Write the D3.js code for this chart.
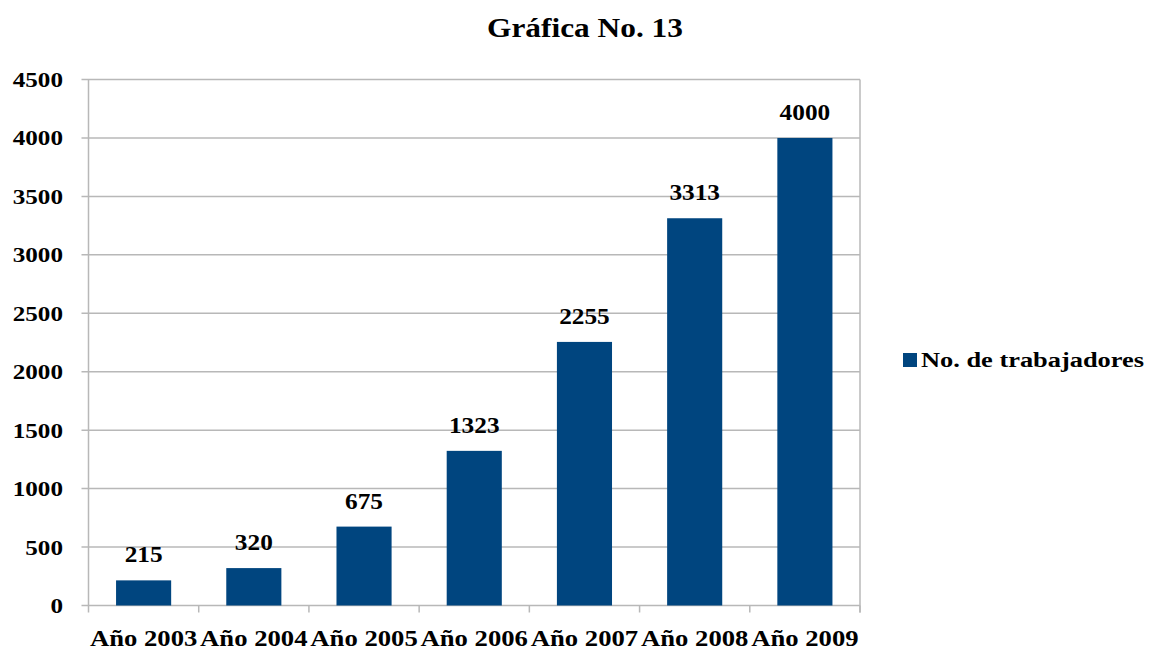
<!DOCTYPE html>
<html><head><meta charset="utf-8">
<script src="https://cdn.jsdelivr.net/npm/d3@7"></script>
<style>
body{margin:0;background:#fff;}
text{font-family:"Liberation Serif","Times New Roman",serif;font-weight:bold;fill:#000;}
</style></head>
<body>
<svg id="c" width="1152" height="652"></svg>
<script>
const categories = ["Año 2003","Año 2004","Año 2005","Año 2006","Año 2007","Año 2008","Año 2009"];
const values = [215, 320, 675, 1323, 2255, 3313, 4000];
const yTicks = [0,500,1000,1500,2000,2500,3000,3500,4000,4500];
const seriesName = "No. de trabajadores";
const title = "Gráfica No. 13";

const svg = d3.select("#c");
const L = 88.5, R = 860, T = 79.5, B = 605.5;
const x = d3.scaleBand().domain(categories).range([L, R]).paddingInner(0.5).paddingOuter(0.25);
const xb = d3.scaleBand().domain(categories).range([L, R]);
const y = d3.scaleLinear().domain([0, 4500]).range([B, T]);
const grid = "#b8b8b8";

function stretched(sel, fx, fy, sx) {
  return sel.attr("transform", (d, i) => `translate(${fx(d, i)},${fy(d, i)}) scale(${sx},1)`);
}

// gridlines
svg.append("g").selectAll("line").data(yTicks).join("line")
  .attr("x1", L - 7).attr("x2", R).attr("y1", d => y(d)).attr("y2", d => y(d))
  .attr("stroke", grid).attr("stroke-width", 1.5);
svg.append("line").attr("x1", R).attr("x2", R).attr("y1", T).attr("y2", B + 7).attr("stroke", grid).attr("stroke-width", 1.5);
svg.append("line").attr("x1", L).attr("x2", L).attr("y1", T).attr("y2", B + 7).attr("stroke", grid).attr("stroke-width", 1.5);
svg.append("g").selectAll("line").data(categories).join("line")
  .attr("x1", d => xb(d) + xb.bandwidth()).attr("x2", d => xb(d) + xb.bandwidth())
  .attr("y1", B).attr("y2", B + 7).attr("stroke", grid).attr("stroke-width", 1.5);

// y labels
stretched(svg.append("g").selectAll("text").data(yTicks).join("text"),
  () => 63, d => y(d) + 7.5, 1.17)
  .attr("text-anchor", "end").style("font-size", "21.5px").text(d => d);

// bars
svg.append("g").selectAll("rect").data(values).join("rect")
  .attr("x", (d, i) => x(categories[i])).attr("width", x.bandwidth())
  .attr("y", d => y(d)).attr("height", d => B - y(d)).attr("fill", "#00457f");

// data labels
stretched(svg.append("g").selectAll("text").data(values).join("text"),
  (d, i) => x(categories[i]) + x.bandwidth() / 2, d => y(d) - 18, 1.1)
  .attr("text-anchor", "middle").style("font-size", "23px").text(d => d);

// x labels
stretched(svg.append("g").selectAll("text").data(categories).join("text"),
  d => xb(d) + xb.bandwidth() / 2, () => 646, 1.16)
  .attr("text-anchor", "middle").style("font-size", "23px").text(d => d);

// title
stretched(svg.append("text").datum(title), () => 585, () => 37, 1.12)
  .attr("text-anchor", "middle").style("font-size", "28px").text(d => d);

// legend
svg.append("rect").attr("x", 903).attr("y", 353).attr("width", 14).attr("height", 14).attr("fill", "#00457f");
stretched(svg.append("text").datum(seriesName), () => 921, () => 367, 1.2)
  .style("font-size", "22px").text(d => d);
</script>
</body></html>
